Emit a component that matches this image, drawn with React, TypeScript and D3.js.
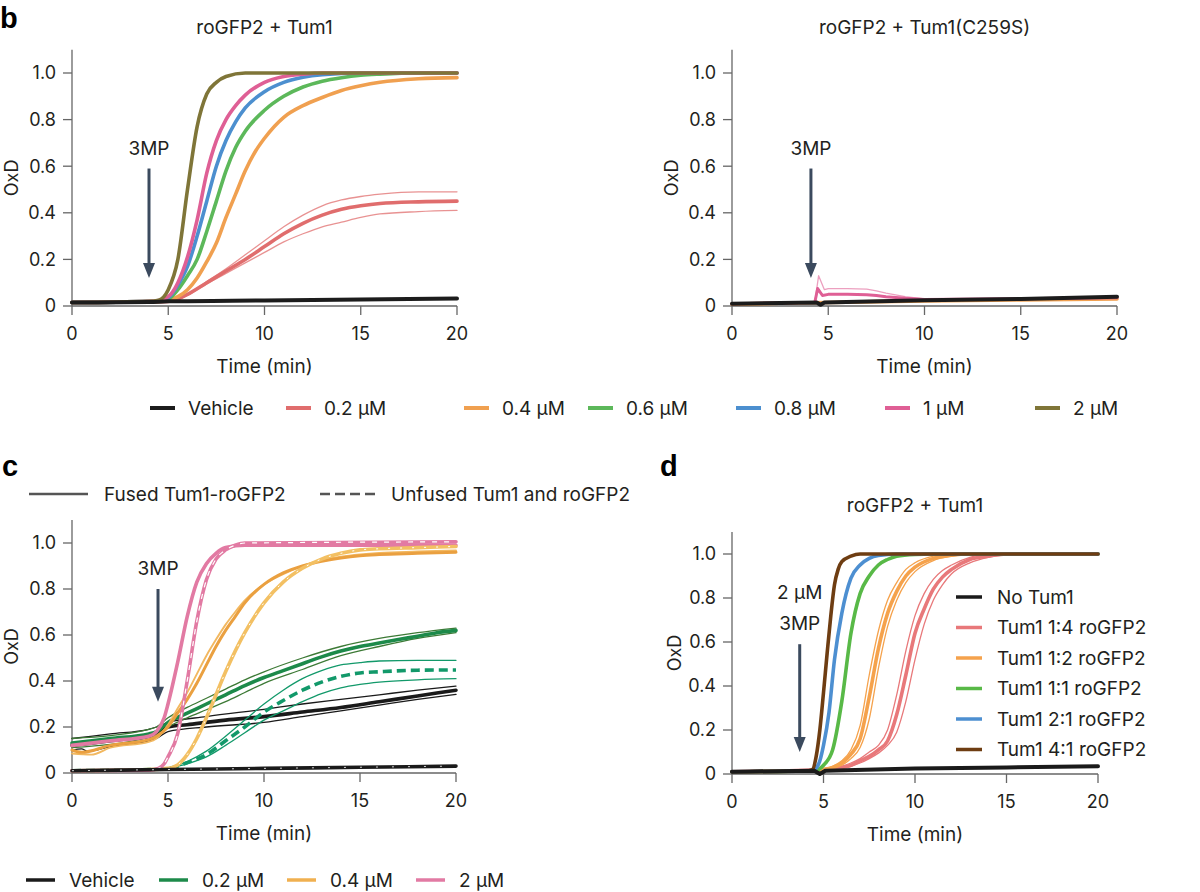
import React from 'react'
import * as d3 from 'd3'

type Pt = [number, number]

// ---- panel b (left): roGFP2 + Tum1, [time (min), OxD]
const bVehicle: Pt[] = [[0, 0.015], [4, 0.017], [5, 0.02], [10, 0.024], [15, 0.028], [20, 0.032]]
const b02: Pt[] = [[0, 0.015], [4, 0.018], [5, 0.02], [5.5, 0.03], [6, 0.05], [7, 0.1], [8, 0.15], [9, 0.2], [10, 0.255], [11, 0.31], [12, 0.355], [13, 0.39], [14, 0.415], [15, 0.43], [16, 0.44], [18, 0.447], [20, 0.45]]
const b02Hi: Pt[] = [[5, 0.02], [5.5, 0.03], [6, 0.052], [7, 0.105], [8, 0.16], [9, 0.22], [10, 0.28], [11, 0.34], [12, 0.39], [13, 0.43], [14, 0.455], [15, 0.47], [16, 0.48], [18, 0.49], [20, 0.49]]
const b02Lo: Pt[] = [[5, 0.02], [5.5, 0.028], [6, 0.046], [7, 0.095], [8, 0.14], [9, 0.185], [10, 0.23], [11, 0.275], [12, 0.31], [13, 0.34], [14, 0.36], [15, 0.38], [16, 0.395], [18, 0.405], [20, 0.41]]
const b04: Pt[] = [[0, 0.015], [4, 0.018], [5, 0.025], [5.5, 0.04], [6, 0.07], [6.5, 0.12], [7, 0.19], [7.5, 0.27], [8, 0.38], [8.5, 0.48], [9, 0.58], [9.5, 0.66], [10, 0.72], [11, 0.81], [12, 0.86], [13, 0.895], [14, 0.925], [15, 0.945], [16, 0.96], [18, 0.975], [20, 0.98]]
const b06: Pt[] = [[0, 0.015], [4, 0.02], [4.5, 0.022], [5, 0.03], [5.5, 0.07], [6, 0.13], [6.5, 0.2], [7, 0.32], [7.5, 0.45], [8, 0.58], [8.5, 0.68], [9, 0.75], [10, 0.84], [11, 0.9], [12, 0.94], [13, 0.965], [14, 0.98], [15, 0.99], [16, 0.995], [18, 1.0], [20, 1.0]]
const b08: Pt[] = [[0, 0.015], [4, 0.02], [4.5, 0.022], [5, 0.035], [5.5, 0.09], [6, 0.17], [6.5, 0.3], [7, 0.45], [7.5, 0.6], [8, 0.71], [8.5, 0.79], [9, 0.85], [10, 0.92], [11, 0.96], [12, 0.982], [13, 0.993], [15, 1.0], [20, 1.0]]
const b1: Pt[] = [[0, 0.015], [4, 0.02], [4.5, 0.024], [5, 0.04], [5.5, 0.1], [6, 0.21], [6.5, 0.37], [7, 0.57], [7.5, 0.71], [8, 0.8], [8.5, 0.86], [9, 0.905], [10, 0.96], [11, 0.985], [12, 0.995], [13, 1.0], [20, 1.0]]
const b2: Pt[] = [[0, 0.015], [4, 0.02], [4.5, 0.025], [5, 0.07], [5.5, 0.2], [6, 0.5], [6.5, 0.77], [7, 0.91], [7.5, 0.96], [8, 0.985], [9, 1.0], [20, 1.0]]

// ---- panel b (right): roGFP2 + Tum1(C259S)
const rVehicle: Pt[] = [[0, 0.01], [4.4, 0.015], [4.6, 0.005], [4.8, 0.015], [10, 0.025], [15, 0.03], [20, 0.04]]
const rOthers: Pt[] = [[0, 0.008], [5, 0.015], [10, 0.022], [15, 0.026], [20, 0.03]]
const rPink: Pt[] = [[0, 0.01], [4.3, 0.015], [4.45, 0.075], [4.7, 0.045], [5, 0.05], [6, 0.05], [7, 0.048], [7.5, 0.045], [8, 0.04], [9, 0.033], [10, 0.028], [20, 0.035]]
const rPinkHi: Pt[] = [[4.3, 0.015], [4.5, 0.13], [4.8, 0.07], [5, 0.075], [6, 0.075], [7, 0.072], [7.5, 0.065], [8, 0.055], [9, 0.04], [10, 0.03]]

// ---- panel c: fused vs unfused
const cVehFused: Pt[] = [[0, 0.12], [1, 0.13], [2, 0.14], [3, 0.15], [4, 0.16], [4.4, 0.17], [5, 0.2], [6, 0.21], [8, 0.23], [10, 0.245], [12, 0.265], [14, 0.285], [16, 0.31], [18, 0.335], [20, 0.36]]
const cVehFusedHi: Pt[] = [[0, 0.15], [2, 0.17], [4, 0.19], [4.4, 0.2], [5, 0.22], [7, 0.245], [10, 0.277], [12, 0.3], [14, 0.32], [16, 0.34], [18, 0.36], [20, 0.378]]
const cVehFusedLo: Pt[] = [[0, 0.1], [0.5, 0.105], [0.8, 0.095], [2, 0.115], [4, 0.14], [4.4, 0.15], [5, 0.18], [7, 0.2], [10, 0.22], [12, 0.245], [14, 0.27], [16, 0.295], [18, 0.32], [20, 0.342]]
const cVehUnfused: Pt[] = [[0, 0.01], [5, 0.015], [10, 0.02], [15, 0.025], [20, 0.03]]
const cGreenFused: Pt[] = [[0, 0.13], [2, 0.15], [4, 0.17], [4.4, 0.18], [5, 0.22], [6, 0.26], [7, 0.3], [8, 0.34], [9, 0.38], [10, 0.415], [11, 0.445], [12, 0.475], [13, 0.505], [14, 0.53], [15, 0.55], [16, 0.565], [17, 0.58], [18, 0.595], [19, 0.61], [20, 0.62]]
const cGreenFusedHi: Pt[] = [[0, 0.15], [4, 0.19], [4.4, 0.2], [5, 0.24], [6, 0.285], [7, 0.325], [8, 0.365], [9, 0.405], [10, 0.44], [12, 0.5], [14, 0.55], [16, 0.585], [18, 0.61], [20, 0.63]]
const cGreenFusedLo: Pt[] = [[0, 0.11], [4, 0.155], [4.4, 0.165], [5, 0.2], [6, 0.24], [7, 0.275], [8, 0.31], [9, 0.35], [10, 0.39], [12, 0.45], [14, 0.51], [16, 0.55], [18, 0.585], [20, 0.61]]
const cGreenUnfused: Pt[] = [[0, 0.01], [4, 0.015], [5, 0.02], [5.5, 0.03], [6, 0.045], [7, 0.08], [8, 0.14], [9, 0.2], [10, 0.265], [11, 0.315], [12, 0.36], [13, 0.395], [14, 0.42], [15, 0.435], [16, 0.44], [18, 0.447], [20, 0.448]]
const cGreenUnfusedHi: Pt[] = [[5, 0.02], [6, 0.05], [7, 0.095], [8, 0.16], [9, 0.23], [10, 0.3], [11, 0.36], [12, 0.41], [13, 0.445], [14, 0.47], [15, 0.48], [16, 0.487], [18, 0.49], [20, 0.49]]
const cGreenUnfusedLo: Pt[] = [[5, 0.02], [6, 0.04], [7, 0.07], [8, 0.12], [9, 0.175], [10, 0.23], [11, 0.27], [12, 0.31], [13, 0.345], [14, 0.37], [15, 0.385], [16, 0.395], [18, 0.405], [20, 0.41]]
const cOrangeFused: Pt[] = [[0, 0.1], [0.5, 0.09], [2, 0.12], [4, 0.145], [4.4, 0.16], [5, 0.2], [5.5, 0.26], [6, 0.32], [6.5, 0.39], [7, 0.47], [7.5, 0.55], [8, 0.62], [8.5, 0.68], [9, 0.74], [10, 0.82], [11, 0.87], [12, 0.9], [13, 0.92], [14, 0.935], [15, 0.945], [16, 0.95], [18, 0.955], [20, 0.96]]
const cOrangeFusedB: Pt[] = [[0, 0.085], [1, 0.08], [2, 0.11], [4, 0.135], [4.4, 0.15], [5, 0.21], [5.5, 0.28], [6, 0.35], [6.5, 0.43], [7, 0.51], [7.5, 0.58], [8, 0.645], [8.5, 0.7], [9, 0.75], [10, 0.82], [11, 0.865], [12, 0.9], [13, 0.925], [14, 0.94], [15, 0.95], [16, 0.957], [18, 0.963], [20, 0.968]]
const cOrangeUnfused: Pt[] = [[0, 0.01], [4, 0.015], [5, 0.02], [5.5, 0.035], [6, 0.08], [6.5, 0.15], [7, 0.24], [7.5, 0.34], [8, 0.44], [8.5, 0.53], [9, 0.61], [10, 0.74], [11, 0.83], [12, 0.89], [13, 0.93], [14, 0.955], [15, 0.97], [16, 0.975], [18, 0.98], [20, 0.985]]
const cPinkFused: Pt[] = [[0, 0.12], [2, 0.14], [4, 0.16], [4.4, 0.18], [4.8, 0.24], [5, 0.3], [5.5, 0.48], [6, 0.68], [6.5, 0.83], [7, 0.91], [7.5, 0.955], [8, 0.98], [9, 0.99], [20, 0.99]]
const cPinkUnfused: Pt[] = [[0, 0.01], [4, 0.012], [4.5, 0.02], [4.8, 0.04], [5, 0.07], [5.5, 0.17], [6, 0.4], [6.5, 0.66], [7, 0.84], [7.5, 0.93], [8, 0.97], [8.5, 0.99], [9, 1.0], [20, 1.005]]

// ---- panel d: Tum1 : roGFP2 ratios, 2 µM 3MP
const dNone: Pt[] = [[0, 0.01], [4.5, 0.015], [4.8, 0.0], [5.1, 0.015], [10, 0.025], [15, 0.03], [20, 0.035]]
const d14: Pt[] = [[0, 0.01], [5, 0.02], [6, 0.03], [6.5, 0.04], [7, 0.06], [7.5, 0.08], [8, 0.11], [8.5, 0.15], [9, 0.27], [9.5, 0.45], [10, 0.64], [10.5, 0.75], [11, 0.84], [11.5, 0.895], [12, 0.93], [13, 0.975], [14, 0.99], [15, 1.0], [20, 1.0]]
const d14a: Pt[] = [[5, 0.02], [6, 0.035], [6.5, 0.05], [7, 0.07], [7.5, 0.1], [8, 0.13], [8.5, 0.2], [9, 0.36], [9.5, 0.56], [10, 0.72], [10.5, 0.82], [11, 0.885], [11.5, 0.925], [12, 0.95], [13, 0.985], [14, 0.997], [15, 1.0], [20, 1.0]]
const d14b: Pt[] = [[5, 0.02], [6, 0.025], [6.5, 0.035], [7, 0.05], [7.5, 0.07], [8, 0.095], [8.5, 0.13], [9, 0.19], [9.5, 0.33], [10, 0.52], [10.5, 0.68], [11, 0.79], [11.5, 0.86], [12, 0.91], [13, 0.96], [14, 0.985], [15, 0.996], [16, 1.0], [20, 1.0]]
const d12: Pt[] = [[0, 0.01], [4.5, 0.015], [5, 0.02], [5.5, 0.03], [6, 0.05], [6.5, 0.09], [7, 0.16], [7.5, 0.35], [8, 0.57], [8.5, 0.73], [9, 0.83], [9.5, 0.9], [10, 0.94], [11, 0.98], [12, 0.995], [13, 1.0], [20, 1.0]]
const d12a: Pt[] = [[5, 0.02], [5.5, 0.035], [6, 0.06], [6.5, 0.11], [7, 0.22], [7.5, 0.45], [8, 0.65], [8.5, 0.79], [9, 0.87], [9.5, 0.93], [10, 0.96], [11, 0.99], [12, 1.0], [20, 1.0]]
const d12b: Pt[] = [[5, 0.018], [5.5, 0.025], [6, 0.04], [6.5, 0.07], [7, 0.12], [7.5, 0.25], [8, 0.48], [8.5, 0.67], [9, 0.79], [9.5, 0.87], [10, 0.92], [11, 0.97], [12, 0.99], [13, 1.0], [20, 1.0]]
const d11: Pt[] = [[0, 0.01], [4.5, 0.015], [5, 0.04], [5.5, 0.11], [6, 0.33], [6.5, 0.64], [7, 0.82], [7.5, 0.9], [8, 0.95], [8.5, 0.975], [9, 0.99], [10, 0.998], [11, 1.0], [20, 1.0]]
const d21: Pt[] = [[0, 0.01], [4.3, 0.015], [4.5, 0.02], [4.8, 0.06], [5, 0.13], [5.3, 0.28], [5.6, 0.52], [6, 0.73], [6.5, 0.89], [7, 0.95], [7.5, 0.98], [8, 0.993], [9, 1.0], [20, 1.0]]
const d41: Pt[] = [[0, 0.01], [4.2, 0.015], [4.4, 0.02], [4.6, 0.08], [4.8, 0.2], [5, 0.37], [5.2, 0.55], [5.4, 0.72], [5.6, 0.86], [5.8, 0.93], [6, 0.965], [6.5, 0.99], [7, 1.0], [20, 1.0]]

// legends
const bLegendNames = ['Vehicle', '0.2 µM', '0.4 µM', '0.6 µM', '0.8 µM', '1 µM', '2 µM']
const bColors = ['#1c1c1c', '#e06d6d', '#f0a050', '#5cb85a', '#4c8fcf', '#df5f95', '#7f7538']
const cLegendNames = ['Vehicle', '0.2 µM', '0.4 µM', '2 µM']
const cColors = ['#1a1a1a', '#1d8a4a', '#f0b050', '#e27aa3']
const dLegendNames = ['No Tum1', 'Tum1 1:4 roGFP2', 'Tum1 1:2 roGFP2', 'Tum1 1:1 roGFP2', 'Tum1 2:1 roGFP2', 'Tum1 4:1 roGFP2']
const dColors = ['#1a1a1a', '#e8787a', '#f5a24c', '#58b947', '#4d8fd1', '#6e3d12']

const yTicks = [0, 0.2, 0.4, 0.6, 0.8, 1.0]
const xTicks = [0, 5, 10, 15, 20]

const FONT = 'Inter, "Noto Sans", sans-serif'
const TXT = '#231f20'
const AXIS = '#666'
const ARROW = '#3b4a5e'

type Trace = { data: Pt[]; color: string; width: number; dash?: string; linear?: boolean; opacity?: number }

type PanelProps = {
  left: number
  right: number
  zero: number
  one: number
  traces: Trace[]
  arrowT: number
  arrowTop: number
  arrowTip: number
  arrowLabels: string[]
  title?: string
  titleY?: number
  ylabelX: number
}

function Panel(p: PanelProps) {
  const x = d3.scaleLinear().domain([0, 20]).range([p.left, p.right])
  const y = d3.scaleLinear().domain([0, 1]).range([p.zero, p.one])
  const smooth = d3.line<Pt>().x(d => x(d[0])).y(d => y(d[1])).curve(d3.curveMonotoneX)
  const sharp = d3.line<Pt>().x(d => x(d[0])).y(d => y(d[1]))
  const ax = x(p.arrowT)
  const top = y(p.arrowTop)
  const tip = y(p.arrowTip)
  return (
    <g>
      {p.title && (
        <text x={(p.left + p.right) / 2} y={p.titleY} textAnchor="middle" fontSize={19} fill={TXT}>{p.title}</text>
      )}
      <line x1={p.left} x2={p.left} y1={y(0)} y2={y(1.1)} stroke={AXIS} strokeWidth={1.3} />
      <line x1={p.left} x2={p.right} y1={y(0)} y2={y(0)} stroke={AXIS} strokeWidth={1.3} />
      {yTicks.map(t => (
        <g key={'y' + t}>
          <line x1={p.left - 9} x2={p.left} y1={y(t)} y2={y(t)} stroke={AXIS} strokeWidth={1.3} />
          <text x={p.left - 16} y={y(t)} dy="0.35em" textAnchor="end" fontSize={18} fill={TXT}>{t === 0 ? '0' : t.toFixed(1)}</text>
        </g>
      ))}
      {xTicks.map(t => (
        <g key={'x' + t}>
          <line x1={x(t)} x2={x(t)} y1={y(0)} y2={y(0) + 9} stroke={AXIS} strokeWidth={1.3} />
          <text x={x(t)} y={y(0) + 28} dy="0.35em" textAnchor="middle" fontSize={18} fill={TXT}>{t}</text>
        </g>
      ))}
      <text x={(p.left + p.right) / 2} y={y(0) + 60} dy="0.35em" textAnchor="middle" fontSize={19} fill={TXT}>Time (min)</text>
      <text transform={`translate(${p.ylabelX},${(y(0) + y(1.1)) / 2}) rotate(-90)`} dy="0.35em" textAnchor="middle" fontSize={18} fill={TXT}>OxD</text>
      {p.traces.map((tr, i) => (
        <path key={i} d={(tr.linear ? sharp : smooth)(tr.data) || ''} fill="none" stroke={tr.color}
          strokeWidth={tr.width} strokeDasharray={tr.dash} strokeOpacity={tr.opacity ?? 1}
          strokeLinejoin="round" strokeLinecap={tr.dash ? 'butt' : 'round'} />
      ))}
      {p.arrowLabels.map((s, i) => (
        <text key={s} x={ax} y={top - 14 - (p.arrowLabels.length - 1 - i) * 31} textAnchor="middle" fontSize={19} fill={TXT}>{s}</text>
      ))}
      <line x1={ax} x2={ax} y1={top} y2={tip - 12} stroke={ARROW} strokeWidth={3} />
      <path d={`M${ax - 6},${tip - 15}L${ax + 6},${tip - 15}L${ax},${tip}Z`} fill={ARROW} />
    </g>
  )
}

const thick = 3.6
const thin = 1.3

export default function App() {
  const bLeft: Trace[] = [
    { data: b02Hi, color: bColors[1], width: thin, opacity: 0.75 },
    { data: b02Lo, color: bColors[1], width: thin, opacity: 0.75 },
    { data: b02, color: bColors[1], width: thick },
    { data: b04, color: bColors[2], width: thick },
    { data: b06, color: bColors[3], width: thick },
    { data: b08, color: bColors[4], width: thick },
    { data: b1, color: bColors[5], width: thick },
    { data: b2, color: bColors[6], width: thick },
    { data: bVehicle, color: bColors[0], width: 4 },
  ]
  const bRight: Trace[] = [
    { data: rOthers, color: bColors[2], width: thick },
    { data: rPinkHi, color: bColors[5], width: thin, linear: true, opacity: 0.6 },
    { data: rPink, color: bColors[5], width: 3, linear: true },
    { data: rVehicle, color: bColors[0], width: 4, linear: true },
  ]
  const cTraces: Trace[] = [
    { data: cVehFusedHi, color: '#1a1a1a', width: thin },
    { data: cVehFusedLo, color: '#1a1a1a', width: thin },
    { data: cVehFused, color: '#1a1a1a', width: thick },
    { data: cGreenFusedHi, color: '#3d7a36', width: thin },
    { data: cGreenFusedLo, color: '#3d7a36', width: thin },
    { data: cGreenFused, color: cColors[1], width: thick },
    { data: cOrangeFusedB, color: '#f2b860', width: thin + 0.6 },
    { data: cOrangeFused, color: '#eaa040', width: thick - 0.6 },
    { data: cPinkFused, color: cColors[3], width: thick },
    { data: cGreenUnfusedHi, color: '#12996a', width: thin },
    { data: cGreenUnfusedLo, color: '#12996a', width: thin },
    { data: cGreenUnfused, color: '#12996a', width: thick, dash: '9,5' },
    { data: cOrangeUnfused, color: '#f3c063', width: thick },
    { data: cOrangeUnfused, color: '#ffffff', width: 1, dash: '2,10' },
    { data: cPinkUnfused, color: cColors[3], width: thick },
    { data: cPinkUnfused, color: '#ffffff', width: 1.2, dash: '5,7' },
    { data: cVehUnfused, color: '#1a1a1a', width: thick },
    { data: cVehUnfused, color: '#ffffff', width: 0.8, dash: '2,14' },
  ]
  const dTraces: Trace[] = [
    { data: d14a, color: dColors[1], width: thin },
    { data: d14b, color: dColors[1], width: thin },
    { data: d14, color: dColors[1], width: thick },
    { data: d12a, color: dColors[2], width: thin },
    { data: d12b, color: dColors[2], width: thin },
    { data: d12, color: dColors[2], width: thick },
    { data: d11, color: dColors[3], width: thick },
    { data: d21, color: dColors[4], width: thick },
    { data: d41, color: dColors[5], width: thick },
    { data: dNone, color: dColors[0], width: 4, linear: true },
  ]

  // layout of legend rows (pixel positions)
  const bLegendX = [150, 286, 464, 588, 736, 885, 1035]
  const cLegendX = [26, 159, 287, 416]

  return (
    <svg width={1200} height={892} style={{ position: 'absolute', left: 0, top: 0, background: '#fff' }} fontFamily={FONT}>
      <rect width={1200} height={892} fill="#fff" />
      <text x={0} y={28} fontSize={29} fontWeight={700} fontFamily="'Liberation Sans', Arial, sans-serif" fill="#000">b</text>
      <text x={2} y={476} fontSize={29} fontWeight={700} fontFamily="'Liberation Sans', Arial, sans-serif" fill="#000">c</text>
      <text x={660} y={476} fontSize={29} fontWeight={700} fontFamily="'Liberation Sans', Arial, sans-serif" fill="#000">d</text>

      <Panel left={72} right={457} zero={306} one={73} traces={bLeft} arrowT={4} arrowTop={0.59} arrowTip={0.12}
        arrowLabels={['3MP']} title="roGFP2 + Tum1" titleY={34} ylabelX={12} />
      <Panel left={732} right={1117} zero={306} one={73} traces={bRight} arrowT={4.1} arrowTop={0.59} arrowTip={0.12}
        arrowLabels={['3MP']} title="roGFP2 + Tum1(C259S)" titleY={34} ylabelX={672} />
      <Panel left={72} right={456} zero={773} one={543} traces={cTraces} arrowT={4.48} arrowTop={0.8} arrowTip={0.31}
        arrowLabels={['3MP']} ylabelX={12} />
      <Panel left={732} right={1098} zero={774} one={554} traces={dTraces} arrowT={3.7} arrowTop={0.59} arrowTip={0.1}
        arrowLabels={['2 µM', '3MP']} title="roGFP2 + Tum1" titleY={512} ylabelX={675} />

      {/* legend b */}
      {bLegendNames.map((n, i) => (
        <g key={n}>
          <line x1={bLegendX[i]} x2={bLegendX[i] + 25} y1={408} y2={408} stroke={bColors[i]} strokeWidth={4} />
          <text x={bLegendX[i] + 38} y={408} dy="0.35em" fontSize={19} fill={TXT}>{n}</text>
        </g>
      ))}

      {/* legend c top */}
      <line x1={29} x2={88} y1={494} y2={494} stroke="#555" strokeWidth={2.5} />
      <text x={104} y={494} dy="0.35em" fontSize={19} fill={TXT}>Fused Tum1-roGFP2</text>
      <line x1={320} x2={377} y1={494} y2={494} stroke="#555" strokeWidth={2.5} strokeDasharray="10,5" />
      <text x={391} y={494} dy="0.35em" fontSize={19} fill={TXT}>Unfused Tum1 and roGFP2</text>

      {/* legend c bottom */}
      {cLegendNames.map((n, i) => (
        <g key={n}>
          <line x1={cLegendX[i]} x2={cLegendX[i] + 29} y1={880} y2={880} stroke={cColors[i]} strokeWidth={3.5} />
          <text x={cLegendX[i] + 43} y={880} dy="0.35em" fontSize={19} fill={TXT}>{n}</text>
        </g>
      ))}

      {/* legend d */}
      {dLegendNames.map((n, i) => (
        <g key={n}>
          <line x1={956} x2={982} y1={597 + i * 30.5} y2={597 + i * 30.5} stroke={dColors[i]} strokeWidth={3.5} />
          <text x={997} y={597 + i * 30.5} dy="0.35em" fontSize={19} fill={TXT}>{n}</text>
        </g>
      ))}
    </svg>
  )
}
